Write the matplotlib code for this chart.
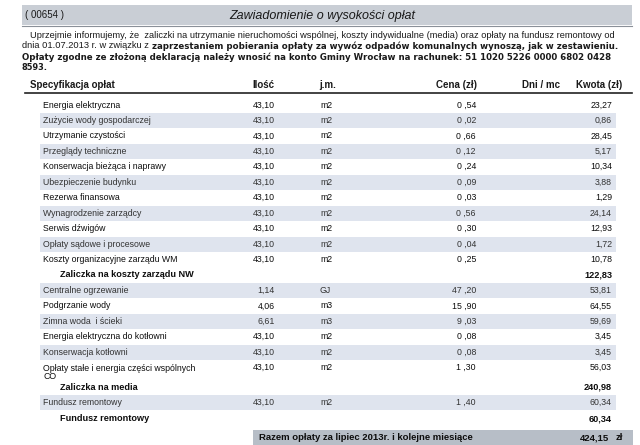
import matplotlib
matplotlib.use("Agg")
import matplotlib.pyplot as plt
from matplotlib.patches import Rectangle
from matplotlib import font_manager

# --- data ---
doc_no = "( 00654 )"
title = "Zawiadomienie o wysokości opłat"
intro_1 = ("Uprzejmie informujemy, że  zaliczki na utrzymanie nieruchomości wspólnej, koszty indywidualne (media) "
           "oraz opłaty na fundusz remontowy od")
intro_2a = "dnia 01.07.2013 r. w związku z "
intro_2b = "zaprzestaniem pobierania opłaty za wywóz odpadów komunalnych wynoszą, jak w zestawieniu."
intro_3 = "Opłaty zgodne ze złożoną deklaracją należy wnosić na konto Gminy Wrocław na rachunek: 51 1020 5226 0000 6802 0428"
intro_4 = "8593."

headers = ["Specyfikacja opłat", "Ilość", "j.m.", "Cena (zł)", "Dni / mc", "Kwota (zł)"]

nw_names = ["Energia elektryczna", "Zużycie wody gospodarczej", "Utrzymanie czystości",
            "Przeglądy techniczne", "Konserwacja bieżąca i naprawy", "Ubezpieczenie budynku",
            "Rezerwa finansowa", "Wynagrodzenie zarządcy", "Serwis dźwigów",
            "Opłaty sądowe i procesowe", "Koszty organizacyjne zarządu WM"]
nw_qty = [43.10, 43.10, 43.10, 43.10, 43.10, 43.10, 43.10, 43.10, 43.10, 43.10, 43.10]
nw_unit = ["m2"] * 11
nw_price = [0.54, 0.02, 0.66, 0.12, 0.24, 0.09, 0.03, 0.56, 0.30, 0.04, 0.25]
nw_amount = [23.27, 0.86, 28.45, 5.17, 10.34, 3.88, 1.29, 24.14, 12.93, 1.72, 10.78]
nw_total = 122.83

media_names = ["Centralne ogrzewanie", "Podgrzanie wody", "Zimna woda  i ścieki",
               "Energia elektryczna do kotłowni", "Konserwacja kotłowni",
               "Opłaty stałe i energia części wspólnych\nCO"]
media_qty = [1.14, 4.06, 6.61, 43.10, 43.10, 43.10]
media_unit = ["GJ", "m3", "m3", "m2", "m2", "m2"]
media_price = [47.20, 15.90, 9.03, 0.08, 0.08, 1.30]
media_amount = [53.81, 64.55, 59.69, 3.45, 3.45, 56.03]
media_total = 240.98

fund_names = ["Fundusz remontowy"]
fund_qty = [43.10]
fund_unit = ["m2"]
fund_price = [1.40]
fund_amount = [60.34]
fund_total = 60.34

grand_label = "Razem opłaty za lipiec 2013r. i kolejne miesiące"
grand_total = 424.15


def pl(v):
    return f"{v:.2f}".replace(".", ",")


def pl_price(v):
    a, b = f"{v:.2f}".split(".")
    return a + " ," + b


# narrow face for the plain intro text, if there is one
names = {f.name for f in font_manager.fontManager.ttflist}
narrow = "Liberation Sans Narrow" if "Liberation Sans Narrow" in names else "Liberation Sans"

fig = plt.figure(figsize=(6.4, 4.45), dpi=100)
ax = fig.add_axes([0, 0, 1, 1])
ax.set_xlim(0, 640)
ax.set_ylim(445, 0)
ax.axis("off")
fig.canvas.draw()
renderer = fig.canvas.get_renderer()


def fit(x0, x1, y, s, **kw):
    # draw text and scale its size so it spans x0..x1
    t = ax.text(x0, y, s, va="center", ha="left", **kw)
    w = t.get_window_extent(renderer).width
    t.set_fontsize(t.get_fontsize() * (x1 - x0) / w)
    return t


# header band
ax.add_patch(Rectangle((22, 5), 610, 20, facecolor="#c9ced5", edgecolor="none"))
ax.plot([22, 632], [25.5, 25.5], color="#8a9098", lw=0.8)
ax.text(25, 15.5, doc_no, fontsize=7, family="Liberation Sans", color="#1a1a1a", va="center")
fit(229, 415, 15.5, title, family="Liberation Sans", style="italic", color="#1a1a1a")

# intro paragraph
t1 = fit(30, 620, 35, intro_1, family=narrow, color="#1a1a1a")
t2 = ax.text(22, 46, intro_2a, fontsize=t1.get_fontsize(), family=narrow, color="#1a1a1a",
             va="center")
x2 = 22 + t2.get_window_extent(renderer).width
fit(x2, 617, 46, intro_2b, family="DejaVu Sans", weight="bold", color="#1a1a1a")
fit(22, 611, 57, intro_3, family="DejaVu Sans", weight="bold", color="#1a1a1a")
fit(22, 48, 68, intro_4, family="DejaVu Sans", weight="bold", color="#1a1a1a")

# table header
fs = 6.3
hy = 85
hk = dict(fontsize=7, weight="bold", family="Liberation Sans", va="center", color="#1a1a1a")
ax.text(30, hy, headers[0], **hk)
ax.text(252, hy, headers[1], **hk)
ax.text(319, hy, headers[2], **hk)
ax.text(477, hy, headers[3], ha="right", **hk)
ax.text(522, hy, headers[4], **hk)
ax.text(622, hy, headers[5], ha="right", **hk)
ax.plot([25, 632], [93, 93], color="#222", lw=1.2)

step = 15.45
row = [105.0]
shade = [False]


def item(name, qty, unit, price, amount):
    y = row[0]
    lines = name.count("\n")
    if shade[0]:
        ax.add_patch(Rectangle((40, y - 7.5), 576, 15, facecolor="#dfe4ee", edgecolor="none"))
    col = "#333333" if shade[0] else "#0d0d0d"
    ty = y + lines * 4.5
    kw = dict(fontsize=fs, family="Liberation Sans", va="center", color=col)
    ax.text(43, ty, name, linespacing=0.85, **kw)
    ax.text(275, y, pl(qty), ha="right", **kw)
    ax.text(320, y, unit, **kw)
    ax.text(476, y, pl_price(price), ha="right", **kw)
    ax.text(612, y, pl(amount), ha="right", **kw)
    shade[0] = not shade[0]
    row[0] += step + lines * 6


def subtotal(label, total):
    y = row[0]
    kw = dict(fontsize=6.6, weight="bold", family="Liberation Sans", va="center", color="#0d0d0d")
    ax.text(60, y, label, **kw)
    ax.text(612, y, pl(total), ha="right", **kw)
    row[0] = y + step


for r in zip(nw_names, nw_qty, nw_unit, nw_price, nw_amount):
    item(*r)
subtotal("Zaliczka na koszty zarządu NW", nw_total)
shade[0] = True
for r in zip(media_names, media_qty, media_unit, media_price, media_amount):
    item(*r)
row[0] -= 2
subtotal("Zaliczka na media", media_total)
shade[0] = True
for r in zip(fund_names, fund_qty, fund_unit, fund_price, fund_amount):
    item(*r)
row[0] += 1
subtotal("Fundusz remontowy", fund_total)

# grand total band
ax.add_patch(Rectangle((253, 430), 380, 15, facecolor="#b7bec7", edgecolor="none"))
gk = dict(fontsize=6.8, weight="bold", family="Liberation Sans", va="center", color="#0d0d0d")
ax.text(259, 437.5, grand_label, **gk)
ax.text(609, 437.5, pl(grand_total), ha="right", **gk)
ax.text(616, 437.5, "zł", **gk)

fig.savefig("out.png", dpi=100, facecolor="white")
